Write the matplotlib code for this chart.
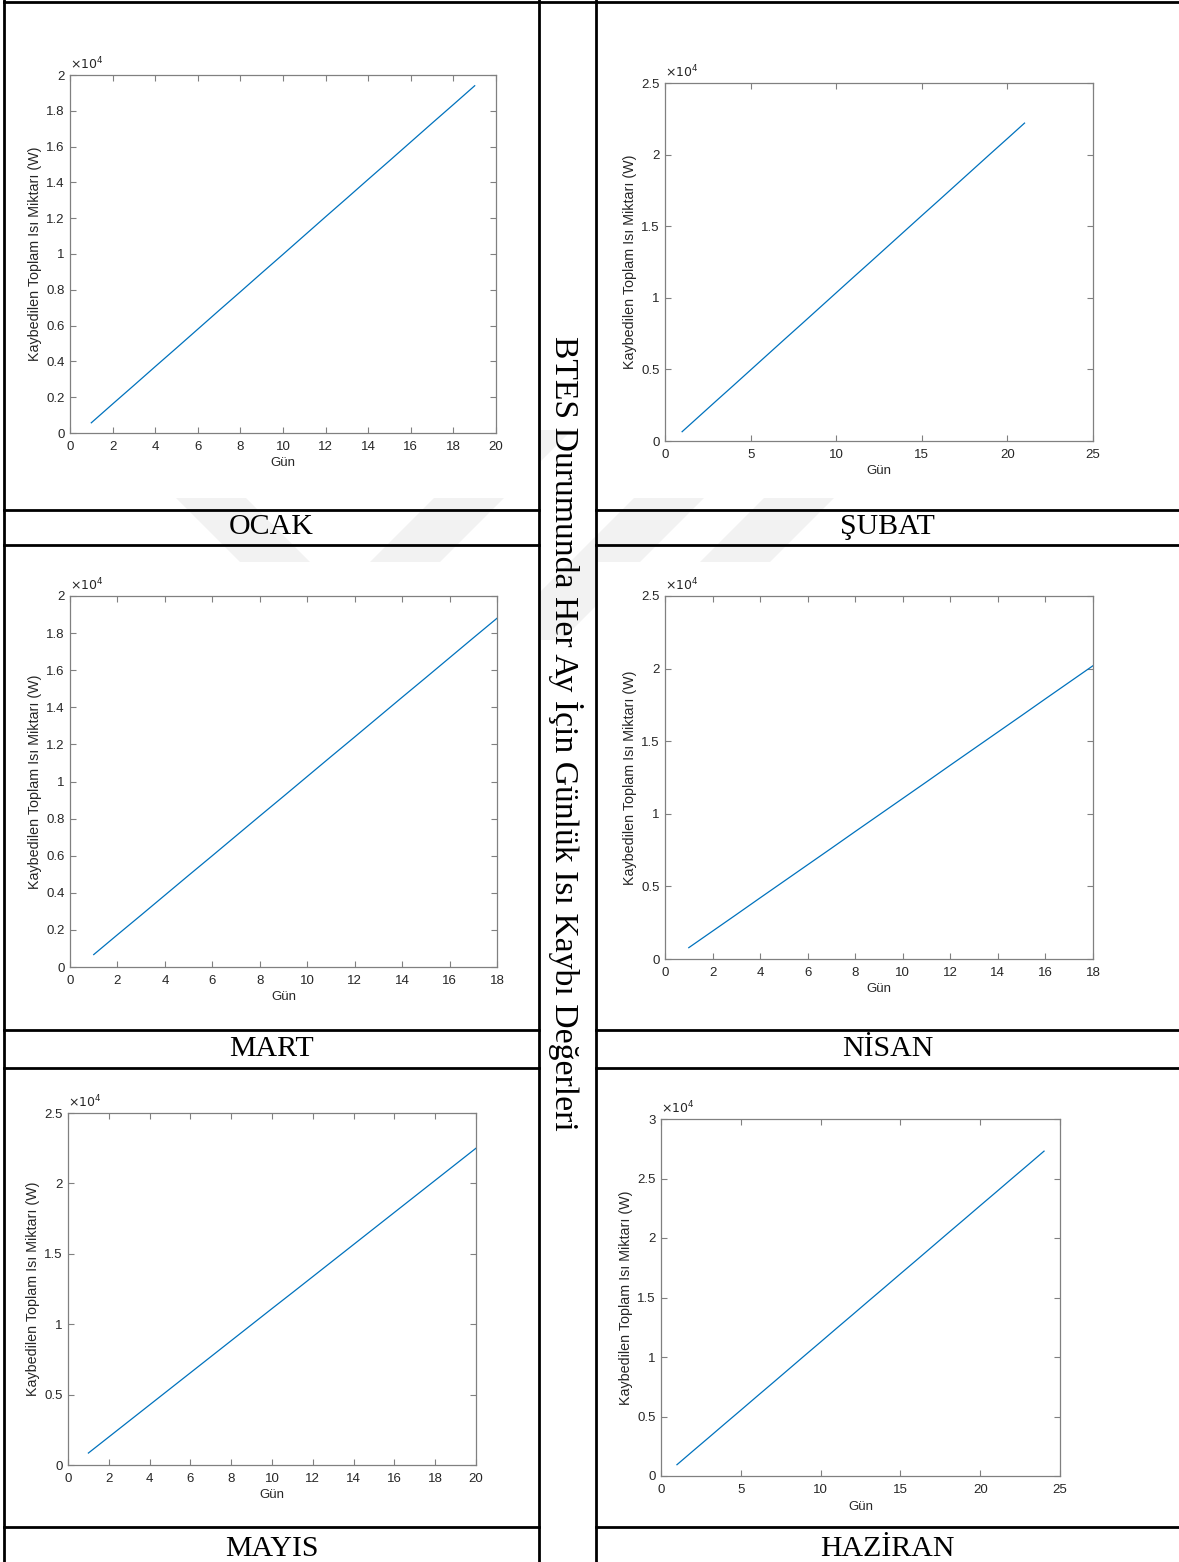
import matplotlib
matplotlib.use("Agg")
import matplotlib.pyplot as plt
from matplotlib.ticker import FuncFormatter, MultipleLocator
from matplotlib.patches import Polygon, Rectangle

W, H = 1179, 1562

# ---- data -------------------------------------------------------------
months = ["OCAK", "ŞUBAT", "MART", "NİSAN", "MAYIS", "HAZİRAN"]

ocak = [570, 1620, 2660, 3710, 4750, 5800, 6850, 7890, 8940, 9980,
        11030, 12080, 13120, 14170, 15210, 16260, 17310, 18350, 19400]
subat = [650, 1730, 2810, 3880, 4960, 6040, 7120, 8190, 9270, 10350,
         11430, 12500, 13580, 14660, 15740, 16810, 17890, 18970, 20050,
         21120, 22200]
mart = [670, 1740, 2800, 3870, 4940, 6000, 7070, 8140, 9200, 10270,
        11340, 12400, 13470, 14540, 15600, 16670, 17740, 18800]
nisan = [780, 1920, 3060, 4210, 5350, 6490, 7630, 8780, 9920, 11060,
         12200, 13350, 14490, 15630, 16770, 17920, 19060, 20200]
mayis = [850, 1990, 3130, 4270, 5410, 6550, 7690, 8830, 9970, 11110,
         12240, 13380, 14520, 15660, 16800, 17940, 19080, 20220, 21360,
         22500]
haziran = [950, 2100, 3240, 4390, 5530, 6680, 7820, 8970, 10120, 11260,
           12410, 13550, 14700, 15840, 16990, 18130, 19280, 20430, 21570,
           22720, 23860, 25010, 26150, 27300]

series = [ocak, subat, mart, nisan, mayis, haziran]

x_max = [20, 25, 18, 18, 20, 25]
x_step = [2, 5, 2, 2, 2, 5]
y_max = [2.0e4, 2.5e4, 2.0e4, 2.5e4, 2.5e4, 3.0e4]
y_step = [0.2e4, 0.5e4, 0.2e4, 0.5e4, 0.5e4, 0.5e4]

title = "BTES Durumunda Her Ay İçin Günlük Isı Kaybı Değerleri"
xlabel = "Gün"
ylabel = "Kaybedilen Toplam Isı Miktarı (W)"

# ---- layout (pixels) --------------------------------------------------
# plot boxes: left, top, right, bottom
boxes = [(70, 75, 496, 433), (665, 83, 1093, 441),
         (70, 596, 497, 967), (665, 596, 1093, 959),
         (68, 1113, 476, 1465), (661, 1119, 1060, 1476)]
label_rows = [(510, 545), (1030, 1068), (1527, 1580)]
col_left = (4, 539)
col_mid = (539, 596)
col_right = (596, 1179)
# white figure images pasted in the cells: x0, y0, x1, y1
image_areas = [(4, 0, 539, 498), (596, 0, 1179, 498),
               (4, 562, 539, 1020), (596, 562, 1179, 1020),
               (4, 1078, 539, 1520), (596, 1078, 1179, 1520)]

SANS = ["Liberation Sans", "DejaVu Sans"]
SERIF = ["Liberation Serif", "DejaVu Serif"]
MATLAB_BLUE = "#0072BD"
AX_GRAY = "#808080"
TXT = "#262626"
MARK_GRAY = "#f2f2f2"

fig = plt.figure(figsize=(W / 100, H / 100), dpi=100)
fig.patch.set_facecolor("white")


def pixel_axes(z):
    a = fig.add_axes([0, 0, 1, 1], zorder=z)
    a.set_xlim(0, W)
    a.set_ylim(H, 0)
    a.axis("off")
    a.patch.set_alpha(0)
    return a


# page watermark (diagonal bands), partly hidden by the pasted figures
wm = pixel_axes(0)
band_w = 70
y_top, y_bot = 430, 640
bands = [(240, +1), (440, -1), (640, -1), (770, -1)]
for cx, s in bands:
    d_top = (527 - y_top) * s
    d_bot = (y_bot - 527) * s
    pts = [(cx - d_top - band_w / 2, y_top), (cx - d_top + band_w / 2, y_top),
           (cx + d_bot + band_w / 2, y_bot), (cx + d_bot - band_w / 2, y_bot)]
    wm.add_patch(Polygon(pts, closed=True, facecolor=MARK_GRAY,
                         edgecolor="none"))
for (x0, y0, x1, y1) in image_areas:
    wm.add_patch(Rectangle((x0, y0), x1 - x0, y1 - y0, facecolor="white",
                           edgecolor="none"))

# table frame and captions
bg = pixel_axes(1)
lw = 2.0
bg.plot([col_left[0], W], [2, 2], color="black", lw=lw)
for x in (col_left[0], col_mid[0], col_mid[1]):
    bg.plot([x, x], [0, H], color="black", lw=lw)
for (y0, y1) in label_rows:
    for (xa, xb) in (col_left, col_right):
        bg.plot([xa, xb], [y0, y0], color="black", lw=lw)
        if y1 < H:
            bg.plot([xa, xb], [y1, y1], color="black", lw=lw)

for i, name in enumerate(months):
    r = label_rows[i // 2]
    cx = sum(col_left if i % 2 == 0 else col_right) / 2
    cy = (r[0] + r[1]) / 2 if r[1] < H else r[0] + 22
    bg.text(cx, cy, name, ha="center", va="center", family=SERIF,
            fontsize=21.5, color="black")

bg.text(sum(col_mid) / 2 - 2, 733, title, rotation=-90, ha="center",
        va="center", family=SERIF, fontsize=24.3, color="black")


def to_fig(box):
    l, t, r, b = box
    return [l / W, 1 - b / H, (r - l) / W, (b - t) / H]


for i, vals in enumerate(series):
    ax = fig.add_axes(to_fig(boxes[i]), zorder=2)
    days = list(range(1, len(vals) + 1))
    ax.plot(days, vals, color=MATLAB_BLUE, lw=0.9)
    ax.set_xlim(0, x_max[i])
    ax.set_ylim(0, y_max[i])
    ax.xaxis.set_major_locator(MultipleLocator(x_step[i]))
    ax.yaxis.set_major_locator(MultipleLocator(y_step[i]))
    ax.yaxis.set_major_formatter(
        FuncFormatter(lambda v, p: f"{round(v / 1e4, 2):g}"))
    ax.tick_params(direction="in", top=True, right=True, length=4,
                   width=0.8, color=AX_GRAY, labelsize=9.5,
                   labelcolor=TXT)
    ax.tick_params(axis="x", pad=6)
    ax.tick_params(axis="y", pad=4)
    for lab in ax.get_xticklabels() + ax.get_yticklabels():
        lab.set_family(SANS)
    for sp in ax.spines.values():
        sp.set_color(AX_GRAY)
        sp.set_linewidth(0.9)
    ax.set_xlabel(xlabel, family=SANS, fontsize=9.5, color=TXT, labelpad=3)
    ax.set_ylabel(ylabel, family=SANS, fontsize=10.3, color=TXT, labelpad=3)
    ax.text(0.0, 1.008, r"$\times10^{4}$", transform=ax.transAxes,
            ha="left", va="bottom", family=SANS, fontsize=9, color=TXT)

fig.savefig("out.png", dpi=100, facecolor="white")
